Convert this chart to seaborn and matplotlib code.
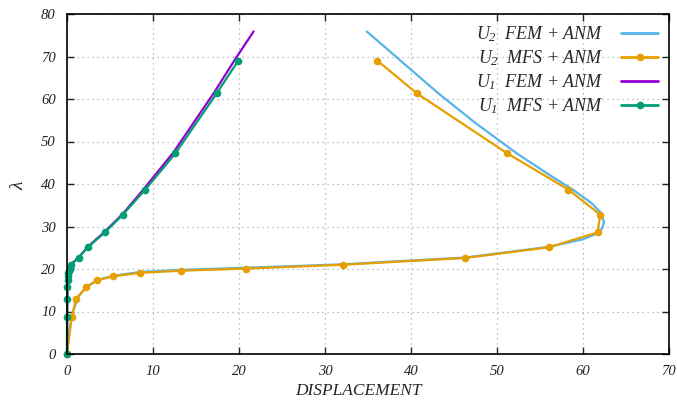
import matplotlib
matplotlib.use("Agg")
import matplotlib.pyplot as plt
import seaborn as sns
import pandas as pd

# ---- data ----
lam_mfs = [0, 8.8, 12.9, 15.7, 17.3, 18.3, 19.1, 19.6, 20.1, 21.0, 22.6, 25.1,
           28.6, 32.8, 38.7, 47.2, 61.3, 69.0]
u2_mfs = [0, 0.55, 1.05, 2.2, 3.45, 5.4, 8.5, 13.3, 20.8, 32.1, 46.3, 56.0,
          61.7, 62.0, 58.3, 51.2, 40.7, 36.1]
u1_mfs = [0, 0.0, 0.03, 0.05, 0.1, 0.12, 0.15, 0.2, 0.3, 0.45, 1.35, 2.4,
          4.4, 6.5, 9.1, 12.6, 17.4, 19.9]

lam_fem2 = [0, 6.0, 10.0, 13.5, 15.8, 17.4, 18.4, 19.3, 19.8, 20.3, 21.1, 22.7,
            25.2, 27.0, 28.3, 29.5, 31.0, 33.2, 35.5, 38.7, 42.0, 47.2, 54.5,
            61.3, 69.0, 75.9]
u2_fem = [0, 0.3, 0.7, 1.3, 2.3, 3.5, 5.4, 8.5, 13.3, 20.8, 32.1, 46.3,
          56.0, 60.0, 61.6, 62.2, 62.45, 62.1, 61.0, 58.8, 56.2, 52.3, 47.4,
          43.2, 38.8, 34.85]

lam_fem1 = [0, 15.0, 19.5, 21.1, 22.7, 25.2, 28.8, 33.0, 39.0, 47.5, 61.5,
            69.5, 75.9]
u1_fem = [0, 0.05, 0.2, 0.45, 1.35, 2.4, 4.4, 6.5, 9.0, 12.4, 17.1, 19.6, 21.7]

labels = [r"$U_2$  FEM + ANM", r"$U_2$  MFS + ANM",
          r"$U_1$  FEM + ANM", r"$U_1$  MFS + ANM"]
colors = ["#56b4e9", "#e69f00", "#9400d3", "#009e73"]

x_ticks = [0, 10, 20, 30, 40, 50, 60, 70]
y_ticks = [0, 10, 20, 30, 40, 50, 60, 70, 80]

# ---- style ----
sns.set_style("ticks")
plt.rcParams["font.family"] = ["Liberation Serif", "DejaVu Serif"]
plt.rcParams["font.style"] = "italic"
plt.rcParams["mathtext.fontset"] = "custom"
plt.rcParams["mathtext.it"] = "Liberation Serif:italic"
plt.rcParams["mathtext.rm"] = "Liberation Serif:italic"

fig = plt.figure(figsize=(6.77, 4.01), dpi=100)
ax = fig.add_axes([67 / 677, 47 / 401, 602 / 677, 340 / 401])

df_fem2 = pd.DataFrame({"x": u2_fem, "y": lam_fem2})
df_mfs2 = pd.DataFrame({"x": u2_mfs, "y": lam_mfs})
df_fem1 = pd.DataFrame({"x": u1_fem, "y": lam_fem1})
df_mfs1 = pd.DataFrame({"x": u1_mfs, "y": lam_mfs})

lw = 1.6
kw = dict(sort=False, estimator=None, ax=ax, lw=lw, clip_on=False, zorder=3)
sns.lineplot(data=df_fem2, x="x", y="y", color=colors[0], label=labels[0], **kw)
sns.lineplot(data=df_mfs2, x="x", y="y", color=colors[1], marker="o",
             markersize=5.5, markeredgewidth=0, label=labels[1], **kw)
sns.lineplot(data=df_fem1, x="x", y="y", color=colors[2], label=labels[2], **kw)
sns.lineplot(data=df_mfs1, x="x", y="y", color=colors[3], marker="o",
             markersize=5.5, markeredgewidth=0, label=labels[3], **kw)

ax.set_xlim(0, 70)
ax.set_ylim(0, 80)
ax.set_xticks(x_ticks)
ax.set_yticks(y_ticks)
ax.tick_params(direction="in", top=True, right=True, length=5, width=1,
               labelsize=10.5, pad=8, colors="#222222")
for lab in ax.get_xticklabels() + ax.get_yticklabels():
    lab.set_fontstyle("italic")
ax.grid(True, linestyle=(0, (1, 3)), color="#aaaaaa", lw=0.9)
for sp in ax.spines.values():
    sp.set_linewidth(1.2)
    sp.set_color("black")
    sp.set_visible(True)
    sp.set_zorder(4)

ax.set_xlabel("DISPLACEMENT", fontsize=12.5, fontstyle="italic")
ax.xaxis.set_label_coords((358.5 - 67) / 602, -0.086)
ax.set_ylabel(r"$\lambda$", fontsize=14)
ax.yaxis.set_label_coords(-(67 - 27) / 602, (354 - 185) / 340)

leg = ax.legend(loc="upper right", bbox_to_anchor=(1.008, 1.018),
                markerfirst=False, frameon=False, fontsize=13,
                handlelength=2.0, labelspacing=0.25, handletextpad=1.0)
for t in leg.get_texts():
    t.set_horizontalalignment("right")
for lh in leg.get_lines():
    lh.set_linewidth(2)

fig.savefig("out.png", dpi=100)
